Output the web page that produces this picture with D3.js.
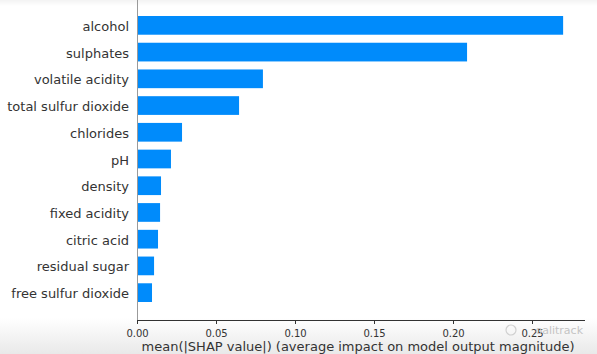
<!DOCTYPE html>
<html><head><meta charset="utf-8">
<script src="https://cdn.jsdelivr.net/npm/d3@7"></script>
<style>html,body{margin:0;padding:0;background:#fff;}svg{display:block;}</style>
</head><body>
<svg id="c" width="597" height="354"></svg>
<script>
const categories = ["alcohol","sulphates","volatile acidity","total sulfur dioxide","chlorides","pH","density","fixed acidity","citric acid","residual sugar","free sulfur dioxide"];
const values = [0.2697,0.2089,0.0797,0.0646,0.0285,0.0215,0.0152,0.0146,0.0133,0.0108,0.0095];
const tickValues = [0,0.05,0.10,0.15,0.20,0.25];
const xLabel = "mean(|SHAP value|) (average impact on model output magnitude)";
const watermark = "oalitrack";

const svg = d3.select("#c");
const W = 597, H = 354;
const defs = svg.append("defs");
const gTop = defs.append("linearGradient").attr("id","gt").attr("x1",0).attr("y1",0).attr("x2",0).attr("y2",1);
gTop.append("stop").attr("offset","0").attr("stop-color","#f3f3f3");
gTop.append("stop").attr("offset","1").attr("stop-color","#ffffff");
const gBot = defs.append("linearGradient").attr("id","gb").attr("x1",0).attr("y1",0).attr("x2",0).attr("y2",1);
gBot.append("stop").attr("offset","0").attr("stop-color","#ffffff");
gBot.append("stop").attr("offset","1").attr("stop-color","#e9e9e9");
svg.append("rect").attr("x",0).attr("y",0).attr("width",W).attr("height",6).attr("fill","url(#gt)");
svg.append("rect").attr("x",0).attr("y",318).attr("width",W).attr("height",36).attr("fill","url(#gb)");

const x0 = 137, y0 = 320;
const x = d3.scaleLinear().domain([0,0.05]).range([x0, x0+79]);
const y = d3.scaleBand().domain(categories).range([12, 306]).paddingInner(0.3).paddingOuter(0.15);

svg.append("g").selectAll("rect").data(categories).join("rect")
  .attr("x", x(0)).attr("y", d => y(d))
  .attr("width", (d,i) => x(values[i]) - x(0))
  .attr("height", y.bandwidth())
  .attr("fill", "#008bfb");

// left spine
svg.append("line").attr("x1",x0+0.5).attr("x2",x0+0.5).attr("y1",0).attr("y2",y0).attr("stroke","#9a9a9a").attr("stroke-width",1);

// category labels
svg.append("g").selectAll("text").data(categories).join("text")
  .attr("x", 129).attr("y", d => y(d) + y.bandwidth()/2 + 1)
  .attr("dy","0.35em").attr("text-anchor","end")
  .attr("font-family","DejaVu Sans").attr("font-size",13).attr("fill","#333333")
  .text(d => d);

// x axis
const ax = svg.append("g").attr("transform",`translate(0,${y0})`)
  .call(d3.axisBottom(x).tickValues(tickValues).tickFormat(d3.format(".2f")).tickSizeOuter(0).tickSize(4));
ax.select(".domain").attr("d", `M${x0},0.5H585`).attr("stroke","#333333");
ax.selectAll(".tick line").attr("stroke","#333333");
ax.selectAll(".tick text").attr("font-family","DejaVu Sans").attr("font-size",10).attr("fill","#333333").attr("dy","0.95em");

svg.append("text").attr("x", 358).attr("y", 351).attr("text-anchor","middle")
  .attr("font-family","DejaVu Sans").attr("font-size",13).attr("fill","#333333").text(xLabel);

// watermark
svg.append("circle").attr("cx",511).attr("cy",330).attr("r",5).attr("fill","none").attr("stroke","#d0d0d0").attr("stroke-width",1.2);
svg.append("text").attr("x", 583).attr("y", 334).attr("text-anchor","end")
  .attr("font-family","DejaVu Sans").attr("font-size",11).attr("fill","#c4c4c4").text(watermark);
</script>
</body></html>
